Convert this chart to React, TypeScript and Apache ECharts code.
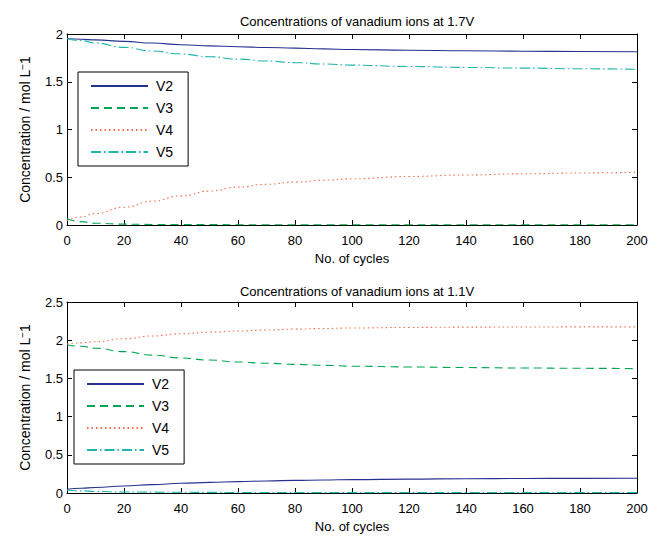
import React, { useEffect, useRef } from "react";
import * as echarts from "echarts";

const cycles = [0, 5, 10, 20, 30, 40, 50, 60, 70, 80, 90, 100, 120, 140, 160, 180, 200];

// 1.7 V
const topV2 = [1.95, 1.945, 1.938, 1.923, 1.905, 1.888, 1.876, 1.866, 1.859, 1.852, 1.844, 1.838, 1.83, 1.824, 1.82, 1.817, 1.814];
const topV3 = [0.065, 0.035, 0.018, 0.009, 0.006, 0.005, 0.004, 0.003, 0.003, 0.003, 0.002, 0.002, 0.002, 0.002, 0.002, 0.002, 0.002];
const topV4 = [0.045, 0.085, 0.12, 0.186, 0.25, 0.305, 0.355, 0.397, 0.426, 0.449, 0.468, 0.484, 0.508, 0.524, 0.536, 0.545, 0.552];
const topV5 = [1.95, 1.93, 1.905, 1.86, 1.822, 1.79, 1.762, 1.737, 1.717, 1.7, 1.686, 1.674, 1.66, 1.65, 1.643, 1.636, 1.63];

// 1.1 V
const botV2 = [0.05, 0.062, 0.072, 0.092, 0.11, 0.127, 0.139, 0.149, 0.158, 0.165, 0.17, 0.175, 0.182, 0.187, 0.19, 0.192, 0.194];
const botV3 = [1.94, 1.92, 1.895, 1.85, 1.805, 1.768, 1.74, 1.715, 1.698, 1.684, 1.671, 1.66, 1.65, 1.642, 1.636, 1.632, 1.628];
const botV4 = [1.95, 1.965, 1.98, 2.02, 2.055, 2.085, 2.105, 2.12, 2.133, 2.145, 2.153, 2.16, 2.167, 2.171, 2.173, 2.174, 2.175];
const botV5 = [0.04, 0.028, 0.02, 0.014, 0.011, 0.009, 0.008, 0.007, 0.006, 0.006, 0.005, 0.005, 0.005, 0.005, 0.005, 0.005, 0.005];

const seriesNames = ["V2", "V3", "V4", "V5"];
const xTicks = { min: 0, max: 200, interval: 20 };
const titles = ["Concentrations of vanadium ions at 1.7V", "Concentrations of vanadium ions at 1.1V"];

const FONT = "Liberation Sans, Arial, Helvetica, sans-serif";
const colors: Record<string, string> = { V2: "#27318f", V3: "#00a651", V4: "#f26c4f", V5: "#1fb5ad" };
const dashes: Record<string, any> = { V2: "solid", V3: [8, 5], V4: [1.5, 3], V5: [10, 3, 1.5, 3] };

function toPairs(vals: number[]) {
  return cycles.map((c, i) => [c, vals[i]]);
}

export default function App() {
  const ref = useRef<HTMLDivElement>(null);
  useEffect(() => {
    if (!ref.current) return;
    const chart = echarts.init(ref.current, undefined, { renderer: "svg" });
    const grids = [
      { left: 67, top: 34, width: 570, height: 191 },
      { left: 67, top: 302, width: 570, height: 191 },
    ];
    const yMax = [2, 2.5];
    const xAxes: any[] = [];
    const yAxes: any[] = [];
    grids.forEach((_, g) => {
      xAxes.push({
        type: "value", gridIndex: g, ...xTicks, position: "bottom",
        axisLine: { show: true, onZero: false, lineStyle: { color: "#000", width: 1 } },
        axisTick: { show: true, inside: true, length: 5, lineStyle: { color: "#000" } },
        axisLabel: { show: true, color: "#000", fontSize: 13, fontFamily: FONT, margin: 9 },
        splitLine: { show: false },
        name: "No. of cycles", nameLocation: "middle", nameGap: 27,
        nameTextStyle: { color: "#000", fontSize: 13, fontFamily: FONT },
      });
      xAxes.push({
        type: "value", gridIndex: g, ...xTicks, position: "top",
        axisLine: { show: true, onZero: false, lineStyle: { color: "#000", width: 1 } },
        axisTick: { show: true, inside: true, length: 5, lineStyle: { color: "#000" } },
        axisLabel: { show: false }, splitLine: { show: false },
      });
      yAxes.push({
        type: "value", gridIndex: g, min: 0, max: yMax[g], interval: 0.5, position: "left",
        axisLine: { show: true, onZero: false, lineStyle: { color: "#000", width: 1 } },
        axisTick: { show: true, inside: true, length: 5, lineStyle: { color: "#000" } },
        axisLabel: { show: true, color: "#000", fontSize: 13, fontFamily: FONT, margin: 4 },
        splitLine: { show: false },
        name: "Concentration / mol L{sup|−}1", nameLocation: "middle", nameGap: 34, nameRotate: 90,
        nameTextStyle: {
          color: "#000", fontSize: 14, fontFamily: FONT,
          rich: { sup: { fontSize: 10, verticalAlign: "top", color: "#000", fontFamily: FONT, padding: [0, 0, 6, 0] } },
        },
      });
      yAxes.push({
        type: "value", gridIndex: g, min: 0, max: yMax[g], interval: 0.5, position: "right",
        axisLine: { show: true, onZero: false, lineStyle: { color: "#000", width: 1 } },
        axisTick: { show: true, inside: true, length: 5, lineStyle: { color: "#000" } },
        axisLabel: { show: false }, splitLine: { show: false },
      });
    });

    const data = [
      { V2: topV2, V3: topV3, V4: topV4, V5: topV5 },
      { V2: botV2, V3: botV3, V4: botV4, V5: botV5 },
    ];
    const series: any[] = [];
    data.forEach((d: any, g) => {
      seriesNames.forEach((n) => {
        series.push({
          type: "line", name: n, xAxisIndex: g * 2, yAxisIndex: g * 2,
          data: toPairs(d[n]), symbol: "none", smooth: true, smoothMonotone: "x",
          lineStyle: { color: colors[n], width: 1.1, type: dashes[n] },
          itemStyle: { color: colors[n] },
        });
      });
    });

    const legendCommon = {
      orient: "vertical", data: seriesNames, itemWidth: 57, itemHeight: 14, itemGap: 8,
      borderColor: "#000", borderWidth: 1, backgroundColor: "#fff",
      padding: [7, 15, 7, 12], selectedMode: false,
      itemStyle: { opacity: 0, color: "rgba(0,0,0,0)", borderWidth: 0 },
      textStyle: { color: "#000", fontSize: 14, fontFamily: FONT, padding: [0, 0, 0, 3] },
    };

    chart.setOption({
      animation: false,
      backgroundColor: "#fff",
      title: [
        { text: titles[0], left: 352, textAlign: "center", top: 10, textStyle: { color: "#000", fontSize: 13, fontWeight: "normal", fontFamily: FONT } },
        { text: titles[1], left: 352, textAlign: "center", top: 280, textStyle: { color: "#000", fontSize: 13, fontWeight: "normal", fontFamily: FONT } },
      ],
      legend: [
        { ...legendCommon, left: 78, top: 72 },
        { ...legendCommon, left: 74, top: 370 },
      ],
      grid: grids,
      xAxis: xAxes,
      yAxis: yAxes,
      series,
    });
    return () => chart.dispose();
  }, []);
  return <div ref={ref} style={{ width: 665, height: 536, position: "absolute", left: 0, top: 0 }} />;
}
